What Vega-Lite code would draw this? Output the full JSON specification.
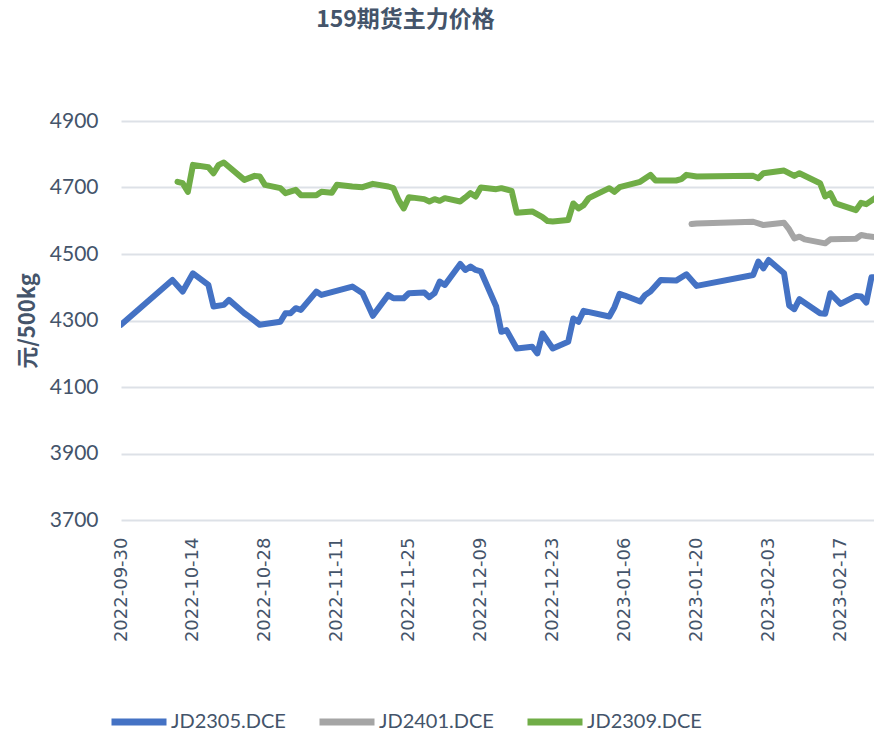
{
  "$schema": "https://vega.github.io/schema/vega-lite/v6.json",
  "autosize": "none",
  "width": 753,
  "height": 399,
  "padding": {"left": 121, "top": 121, "right": 0, "bottom": 211},
  "background": "white",
  "title": {
    "text": "159期货主力价格",
    "font": "Noto Sans CJK SC",
    "fontSize": 23,
    "fontWeight": "bold",
    "color": "#44546A",
    "anchor": "middle",
    "frame": "group",
    "dx": -92,
    "offset": 78
  },
  "data": {
    "values": [
      {"date": "2022-09-30", "contract": "JD2305.DCE", "price": 4287},
      {"date": "2022-10-10", "contract": "JD2305.DCE", "price": 4422},
      {"date": "2022-10-12", "contract": "JD2305.DCE", "price": 4387},
      {"date": "2022-10-14", "contract": "JD2305.DCE", "price": 4442},
      {"date": "2022-10-17", "contract": "JD2305.DCE", "price": 4407},
      {"date": "2022-10-18", "contract": "JD2305.DCE", "price": 4342},
      {"date": "2022-10-20", "contract": "JD2305.DCE", "price": 4347},
      {"date": "2022-10-21", "contract": "JD2305.DCE", "price": 4362},
      {"date": "2022-10-24", "contract": "JD2305.DCE", "price": 4322},
      {"date": "2022-10-25", "contract": "JD2305.DCE", "price": 4311},
      {"date": "2022-10-27", "contract": "JD2305.DCE", "price": 4287},
      {"date": "2022-10-31", "contract": "JD2305.DCE", "price": 4296},
      {"date": "2022-11-01", "contract": "JD2305.DCE", "price": 4322},
      {"date": "2022-11-02", "contract": "JD2305.DCE", "price": 4322},
      {"date": "2022-11-03", "contract": "JD2305.DCE", "price": 4337},
      {"date": "2022-11-04", "contract": "JD2305.DCE", "price": 4332},
      {"date": "2022-11-07", "contract": "JD2305.DCE", "price": 4387},
      {"date": "2022-11-08", "contract": "JD2305.DCE", "price": 4377},
      {"date": "2022-11-14", "contract": "JD2305.DCE", "price": 4402},
      {"date": "2022-11-16", "contract": "JD2305.DCE", "price": 4382},
      {"date": "2022-11-18", "contract": "JD2305.DCE", "price": 4314},
      {"date": "2022-11-21", "contract": "JD2305.DCE", "price": 4377},
      {"date": "2022-11-22", "contract": "JD2305.DCE", "price": 4367},
      {"date": "2022-11-24", "contract": "JD2305.DCE", "price": 4367},
      {"date": "2022-11-25", "contract": "JD2305.DCE", "price": 4382},
      {"date": "2022-11-28", "contract": "JD2305.DCE", "price": 4384},
      {"date": "2022-11-29", "contract": "JD2305.DCE", "price": 4370},
      {"date": "2022-11-30", "contract": "JD2305.DCE", "price": 4382},
      {"date": "2022-12-01", "contract": "JD2305.DCE", "price": 4417},
      {"date": "2022-12-02", "contract": "JD2305.DCE", "price": 4407},
      {"date": "2022-12-05", "contract": "JD2305.DCE", "price": 4470},
      {"date": "2022-12-06", "contract": "JD2305.DCE", "price": 4452},
      {"date": "2022-12-07", "contract": "JD2305.DCE", "price": 4462},
      {"date": "2022-12-08", "contract": "JD2305.DCE", "price": 4452},
      {"date": "2022-12-09", "contract": "JD2305.DCE", "price": 4448},
      {"date": "2022-12-12", "contract": "JD2305.DCE", "price": 4342},
      {"date": "2022-12-13", "contract": "JD2305.DCE", "price": 4266},
      {"date": "2022-12-14", "contract": "JD2305.DCE", "price": 4271},
      {"date": "2022-12-16", "contract": "JD2305.DCE", "price": 4216},
      {"date": "2022-12-19", "contract": "JD2305.DCE", "price": 4221},
      {"date": "2022-12-20", "contract": "JD2305.DCE", "price": 4201},
      {"date": "2022-12-21", "contract": "JD2305.DCE", "price": 4261},
      {"date": "2022-12-23", "contract": "JD2305.DCE", "price": 4216},
      {"date": "2022-12-26", "contract": "JD2305.DCE", "price": 4236},
      {"date": "2022-12-27", "contract": "JD2305.DCE", "price": 4306},
      {"date": "2022-12-28", "contract": "JD2305.DCE", "price": 4296},
      {"date": "2022-12-29", "contract": "JD2305.DCE", "price": 4329},
      {"date": "2023-01-03", "contract": "JD2305.DCE", "price": 4312},
      {"date": "2023-01-04", "contract": "JD2305.DCE", "price": 4340},
      {"date": "2023-01-05", "contract": "JD2305.DCE", "price": 4380},
      {"date": "2023-01-06", "contract": "JD2305.DCE", "price": 4375},
      {"date": "2023-01-09", "contract": "JD2305.DCE", "price": 4357},
      {"date": "2023-01-10", "contract": "JD2305.DCE", "price": 4377},
      {"date": "2023-01-11", "contract": "JD2305.DCE", "price": 4387},
      {"date": "2023-01-13", "contract": "JD2305.DCE", "price": 4422},
      {"date": "2023-01-16", "contract": "JD2305.DCE", "price": 4420},
      {"date": "2023-01-18", "contract": "JD2305.DCE", "price": 4439},
      {"date": "2023-01-20", "contract": "JD2305.DCE", "price": 4404},
      {"date": "2023-01-31", "contract": "JD2305.DCE", "price": 4437},
      {"date": "2023-02-01", "contract": "JD2305.DCE", "price": 4477},
      {"date": "2023-02-02", "contract": "JD2305.DCE", "price": 4457},
      {"date": "2023-02-03", "contract": "JD2305.DCE", "price": 4482},
      {"date": "2023-02-06", "contract": "JD2305.DCE", "price": 4442},
      {"date": "2023-02-07", "contract": "JD2305.DCE", "price": 4345},
      {"date": "2023-02-08", "contract": "JD2305.DCE", "price": 4334},
      {"date": "2023-02-09", "contract": "JD2305.DCE", "price": 4364},
      {"date": "2023-02-13", "contract": "JD2305.DCE", "price": 4322},
      {"date": "2023-02-14", "contract": "JD2305.DCE", "price": 4320},
      {"date": "2023-02-15", "contract": "JD2305.DCE", "price": 4382},
      {"date": "2023-02-17", "contract": "JD2305.DCE", "price": 4350},
      {"date": "2023-02-20", "contract": "JD2305.DCE", "price": 4374},
      {"date": "2023-02-21", "contract": "JD2305.DCE", "price": 4372},
      {"date": "2023-02-22", "contract": "JD2305.DCE", "price": 4354},
      {"date": "2023-02-23", "contract": "JD2305.DCE", "price": 4430},
      {"date": "2023-02-24", "contract": "JD2305.DCE", "price": 4430},

      {"date": "2023-01-19", "contract": "JD2401.DCE", "price": 4590},
      {"date": "2023-01-20", "contract": "JD2401.DCE", "price": 4592},
      {"date": "2023-01-31", "contract": "JD2401.DCE", "price": 4597},
      {"date": "2023-02-02", "contract": "JD2401.DCE", "price": 4587},
      {"date": "2023-02-06", "contract": "JD2401.DCE", "price": 4594},
      {"date": "2023-02-07", "contract": "JD2401.DCE", "price": 4574},
      {"date": "2023-02-08", "contract": "JD2401.DCE", "price": 4547},
      {"date": "2023-02-09", "contract": "JD2401.DCE", "price": 4552},
      {"date": "2023-02-10", "contract": "JD2401.DCE", "price": 4544},
      {"date": "2023-02-14", "contract": "JD2401.DCE", "price": 4532},
      {"date": "2023-02-15", "contract": "JD2401.DCE", "price": 4544},
      {"date": "2023-02-20", "contract": "JD2401.DCE", "price": 4546},
      {"date": "2023-02-21", "contract": "JD2401.DCE", "price": 4557},
      {"date": "2023-02-22", "contract": "JD2401.DCE", "price": 4554},
      {"date": "2023-02-24", "contract": "JD2401.DCE", "price": 4550},

      {"date": "2022-10-11", "contract": "JD2309.DCE", "price": 4717},
      {"date": "2022-10-12", "contract": "JD2309.DCE", "price": 4713},
      {"date": "2022-10-13", "contract": "JD2309.DCE", "price": 4687},
      {"date": "2022-10-14", "contract": "JD2309.DCE", "price": 4768},
      {"date": "2022-10-17", "contract": "JD2309.DCE", "price": 4761},
      {"date": "2022-10-18", "contract": "JD2309.DCE", "price": 4743},
      {"date": "2022-10-19", "contract": "JD2309.DCE", "price": 4768},
      {"date": "2022-10-20", "contract": "JD2309.DCE", "price": 4775},
      {"date": "2022-10-24", "contract": "JD2309.DCE", "price": 4723},
      {"date": "2022-10-26", "contract": "JD2309.DCE", "price": 4735},
      {"date": "2022-10-27", "contract": "JD2309.DCE", "price": 4733},
      {"date": "2022-10-28", "contract": "JD2309.DCE", "price": 4708},
      {"date": "2022-10-31", "contract": "JD2309.DCE", "price": 4698},
      {"date": "2022-11-01", "contract": "JD2309.DCE", "price": 4683},
      {"date": "2022-11-03", "contract": "JD2309.DCE", "price": 4693},
      {"date": "2022-11-04", "contract": "JD2309.DCE", "price": 4677},
      {"date": "2022-11-07", "contract": "JD2309.DCE", "price": 4677},
      {"date": "2022-11-08", "contract": "JD2309.DCE", "price": 4687},
      {"date": "2022-11-10", "contract": "JD2309.DCE", "price": 4684},
      {"date": "2022-11-11", "contract": "JD2309.DCE", "price": 4708},
      {"date": "2022-11-14", "contract": "JD2309.DCE", "price": 4703},
      {"date": "2022-11-16", "contract": "JD2309.DCE", "price": 4701},
      {"date": "2022-11-18", "contract": "JD2309.DCE", "price": 4711},
      {"date": "2022-11-21", "contract": "JD2309.DCE", "price": 4703},
      {"date": "2022-11-22", "contract": "JD2309.DCE", "price": 4698},
      {"date": "2022-11-23", "contract": "JD2309.DCE", "price": 4662},
      {"date": "2022-11-24", "contract": "JD2309.DCE", "price": 4637},
      {"date": "2022-11-25", "contract": "JD2309.DCE", "price": 4671},
      {"date": "2022-11-28", "contract": "JD2309.DCE", "price": 4665},
      {"date": "2022-11-29", "contract": "JD2309.DCE", "price": 4658},
      {"date": "2022-11-30", "contract": "JD2309.DCE", "price": 4665},
      {"date": "2022-12-01", "contract": "JD2309.DCE", "price": 4660},
      {"date": "2022-12-02", "contract": "JD2309.DCE", "price": 4668},
      {"date": "2022-12-05", "contract": "JD2309.DCE", "price": 4658},
      {"date": "2022-12-06", "contract": "JD2309.DCE", "price": 4670},
      {"date": "2022-12-07", "contract": "JD2309.DCE", "price": 4683},
      {"date": "2022-12-08", "contract": "JD2309.DCE", "price": 4673},
      {"date": "2022-12-09", "contract": "JD2309.DCE", "price": 4700},
      {"date": "2022-12-12", "contract": "JD2309.DCE", "price": 4695},
      {"date": "2022-12-13", "contract": "JD2309.DCE", "price": 4698},
      {"date": "2022-12-15", "contract": "JD2309.DCE", "price": 4690},
      {"date": "2022-12-16", "contract": "JD2309.DCE", "price": 4624},
      {"date": "2022-12-19", "contract": "JD2309.DCE", "price": 4628},
      {"date": "2022-12-21", "contract": "JD2309.DCE", "price": 4611},
      {"date": "2022-12-22", "contract": "JD2309.DCE", "price": 4599},
      {"date": "2022-12-23", "contract": "JD2309.DCE", "price": 4598},
      {"date": "2022-12-26", "contract": "JD2309.DCE", "price": 4602},
      {"date": "2022-12-27", "contract": "JD2309.DCE", "price": 4652},
      {"date": "2022-12-28", "contract": "JD2309.DCE", "price": 4637},
      {"date": "2022-12-29", "contract": "JD2309.DCE", "price": 4647},
      {"date": "2022-12-30", "contract": "JD2309.DCE", "price": 4668},
      {"date": "2023-01-03", "contract": "JD2309.DCE", "price": 4698},
      {"date": "2023-01-04", "contract": "JD2309.DCE", "price": 4687},
      {"date": "2023-01-05", "contract": "JD2309.DCE", "price": 4701},
      {"date": "2023-01-09", "contract": "JD2309.DCE", "price": 4717},
      {"date": "2023-01-11", "contract": "JD2309.DCE", "price": 4738},
      {"date": "2023-01-12", "contract": "JD2309.DCE", "price": 4721},
      {"date": "2023-01-16", "contract": "JD2309.DCE", "price": 4721},
      {"date": "2023-01-17", "contract": "JD2309.DCE", "price": 4725},
      {"date": "2023-01-18", "contract": "JD2309.DCE", "price": 4738},
      {"date": "2023-01-20", "contract": "JD2309.DCE", "price": 4733},
      {"date": "2023-01-31", "contract": "JD2309.DCE", "price": 4735},
      {"date": "2023-02-01", "contract": "JD2309.DCE", "price": 4728},
      {"date": "2023-02-02", "contract": "JD2309.DCE", "price": 4743},
      {"date": "2023-02-06", "contract": "JD2309.DCE", "price": 4751},
      {"date": "2023-02-08", "contract": "JD2309.DCE", "price": 4735},
      {"date": "2023-02-09", "contract": "JD2309.DCE", "price": 4743},
      {"date": "2023-02-13", "contract": "JD2309.DCE", "price": 4713},
      {"date": "2023-02-14", "contract": "JD2309.DCE", "price": 4673},
      {"date": "2023-02-15", "contract": "JD2309.DCE", "price": 4683},
      {"date": "2023-02-16", "contract": "JD2309.DCE", "price": 4652},
      {"date": "2023-02-20", "contract": "JD2309.DCE", "price": 4632},
      {"date": "2023-02-21", "contract": "JD2309.DCE", "price": 4654},
      {"date": "2023-02-22", "contract": "JD2309.DCE", "price": 4650},
      {"date": "2023-02-24", "contract": "JD2309.DCE", "price": 4671}
    ]
  },
  "mark": {"type": "line", "strokeWidth": 6, "strokeCap": "round", "strokeJoin": "round", "clip": true},
  "encoding": {
    "x": {
      "field": "date",
      "type": "temporal",
      "scale": {"type": "utc", "domain": [1664496000000, 1677153600000]},
      "axis": {
        "values": [1664496000000, 1665705600000, 1666915200000, 1668124800000, 1669334400000, 1670544000000, 1671753600000, 1672963200000, 1674172800000, 1675382400000, 1676592000000],
        "labelExpr": "utcFormat(datum.value, '%Y-%m-%d')",
        "labelAngle": -90,
        "labelFont": "DejaVu Sans",
        "labelFontSize": 18,
        "labelColor": "#44546A",
        "labelPadding": 17,
        "labelOverlap": false,
        "labelFlush": false,
        "domain": false,
        "ticks": false,
        "grid": false,
        "title": null
      }
    },
    "y": {
      "field": "price",
      "type": "quantitative",
      "scale": {"domain": [3700, 4900], "zero": false, "nice": false},
      "axis": {
        "values": [3700, 3900, 4100, 4300, 4500, 4700, 4900],
        "format": "d",
        "labelFont": "Lato",
        "labelFontSize": 21,
        "labelColor": "#44546A",
        "labelPadding": 23,
        "domain": false,
        "ticks": false,
        "grid": true,
        "gridColor": "#DDE1E7",
        "gridWidth": 2,
        "title": "元/500kg",
        "titleFont": "Noto Sans CJK SC",
        "titleFontSize": 22,
        "titleFontWeight": "bold",
        "titleColor": "#44546A",
        "titlePadding": 10
      }
    },
    "color": {
      "field": "contract",
      "type": "nominal",
      "scale": {"domain": ["JD2305.DCE", "JD2401.DCE", "JD2309.DCE"], "range": ["#4472C4", "#A5A5A5", "#70AD47"]},
      "legend": {
        "orient": "none",
        "legendX": -13,
        "legendY": 570,
        "direction": "horizontal",
        "title": null,
        "symbolType": "stroke",
        "symbolSize": 3025,
        "symbolStrokeWidth": 7,
        "labelFont": "Lato",
        "labelFontSize": 20,
        "labelColor": "#44546A",
        "labelOffset": 1,
        "columnPadding": 19,
        "labelLimit": 300
      }
    }
  },
  "config": {"view": {"stroke": null}}
}
